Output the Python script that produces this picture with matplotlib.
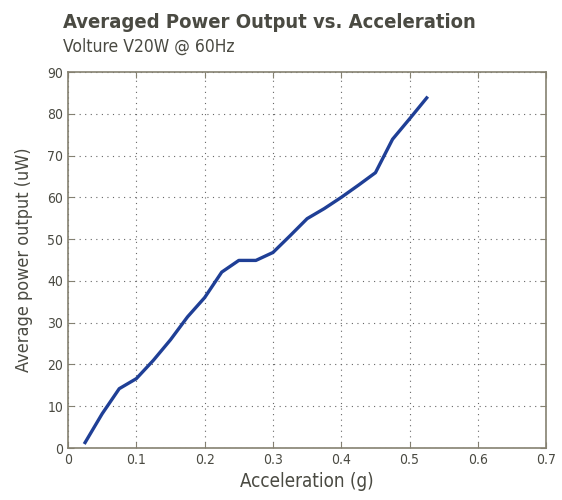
import matplotlib
matplotlib.use('Agg')
import matplotlib.pyplot as plt
import numpy as np

# acceleration (g) vs averaged power output (uW)
accel = [0.025, 0.05, 0.075, 0.1, 0.125, 0.15, 0.175, 0.2, 0.225, 0.25, 0.275,
         0.3, 0.325, 0.35, 0.375, 0.4, 0.425, 0.45, 0.475, 0.5, 0.525]
power = [1.3, 8.2, 14.2, 16.6, 21.0, 25.9, 31.4, 36.0, 42.1, 44.9, 44.9,
         46.8, 50.8, 54.9, 57.3, 60.0, 62.9, 65.9, 73.9, 78.8, 83.8]

plt.rcParams['font.family'] = ['DejaVu Sans']
plt.rcParams['font.stretch'] = 'condensed'

txt = '#4a4a42'
frame = '#858171'

fig = plt.figure(figsize=(5.62, 5.0), dpi=100)
ax = fig.add_axes([0.121, 0.104, 0.851, 0.752])

ax.plot(accel, power, color='#1f3f96', linewidth=2.4)

ax.set_xlim(0, 0.7)
ax.set_ylim(0, 90)
ax.set_xticks(np.arange(0, 0.71, 0.1))
ax.set_xticklabels(['0', '0.1', '0.2', '0.3', '0.4', '0.5', '0.6', '0.7'])
ax.set_yticks(np.arange(0, 91, 10))
ax.grid(True, linestyle=(0, (1, 4)), color='#666666', linewidth=0.8)
ax.tick_params(direction='in', top=True, right=True, length=4, color=frame,
               labelcolor=txt, labelsize=10)
for s in ax.spines.values():
    s.set_color(frame)
    s.set_linewidth(1.2)

ax.set_xlabel('Acceleration (g)', color=txt, fontsize=13.5, labelpad=4)
ax.set_ylabel('Average power output (uW)', color=txt, fontsize=13, labelpad=10)

fig.text(0.112, 0.945, 'Averaged Power Output vs. Acceleration', color=txt,
         fontsize=14.5, fontweight='bold', va='baseline', ha='left')
fig.text(0.112, 0.896, 'Volture V20W @ 60Hz', color=txt,
         fontsize=12.5, va='baseline', ha='left')

fig.savefig('out.png', dpi=100)
